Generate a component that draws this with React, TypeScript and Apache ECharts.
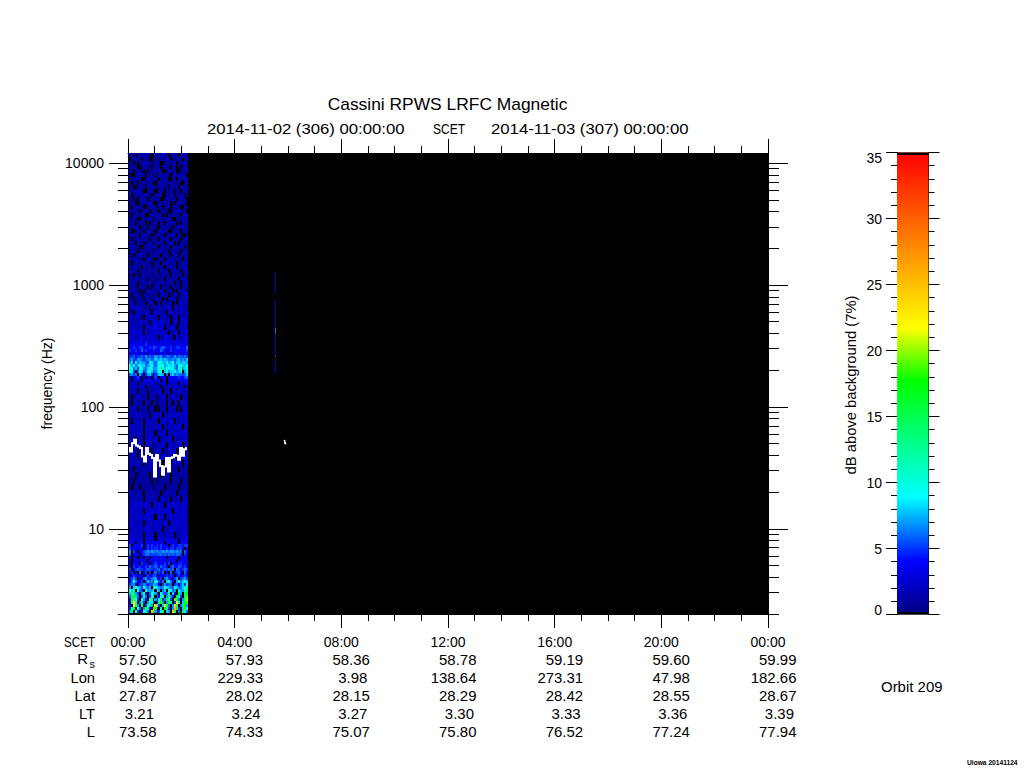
import React, { useEffect, useRef } from "react";
import * as echarts from "echarts";

const titleText = "Cassini RPWS LRFC Magnetic";
const startLabel = "2014-11-02 (306) 00:00:00";
const scetLabel = "SCET";
const endLabel = "2014-11-03 (307) 00:00:00";
const freqAxisName = "frequency (Hz)";
const dbAxisName = "dB above background (7%)";
const orbitLabel = "Orbit 209";
const creditLabel = "Uiowa 20141124";

const tickHours = [0, 4, 8, 12, 16, 20, 24];
const scetRow = ["00:00", "04:00", "08:00", "12:00", "16:00", "20:00", "00:00"];
const rsRow = ["57.50", "57.93", "58.36", "58.78", "59.19", "59.60", "59.99"];
const lonRow = ["94.68", "229.33", "3.98", "138.64", "273.31", "47.98", "182.66"];
const latRow = ["27.87", "28.02", "28.15", "28.29", "28.42", "28.55", "28.67"];
const ltRow = ["3.21", "3.24", "3.27", "3.30", "3.33", "3.36", "3.39"];
const lRow = ["73.58", "74.33", "75.07", "75.80", "76.52", "77.24", "77.94"];

const freqMajor = [10, 100, 1000, 10000];
const freqMinor = [2, 3, 4, 5, 6, 7, 8, 9, 20, 30, 40, 50, 60, 70, 80, 90, 200, 300, 400, 500, 600, 700, 800, 900, 2000, 3000, 4000, 5000, 6000, 7000, 8000, 9000];

// colour scale of the bar: dB -> rgb
const rampDb = [0, 4, 8.9, 17.7, 21.7, 35];
const rampRgb = [[0, 0, 128], [0, 0, 255], [0, 255, 255], [0, 255, 0], [255, 255, 0], [255, 0, 0]];

// edges of the spectrogram's time columns, hours
const columnHours = [0.04, 0.11, 0.19, 0.26, 0.33, 0.41, 0.48, 0.55, 0.63, 0.7, 0.77, 0.85, 0.92, 0.99, 1.07, 1.14, 1.21, 1.29, 1.36, 1.43, 1.51, 1.58, 1.65, 1.73, 1.8, 1.87, 1.95, 2.02, 2.09, 2.17, 2.24];

// edges of the spectrogram's frequency rows, Hz
const rowEdgesHz = [12080, 11200, 10380, 9630, 8930, 8280, 7680, 7120, 6600, 6120, 5680, 5260, 4880, 4530, 4200, 3890, 3610, 3350, 3100, 2880, 2670, 2480, 2300, 2130, 1970, 1830, 1700, 1580, 1460, 1350, 1250, 1160, 1080, 1000, 927, 860, 798, 740, 686,
  624, 568, 517, 470, 428, 389, 354,
  335, 316, 299, 282, 267, 252, 238, 225, 213, 201, 190, 180, 170, 160, 151, 143,
  128, 114, 102, 91, 81.3, 72.6, 64.7, 57.8, 51.6, 46.1, 41.2, 36.8, 32.8, 29.3, 26.2, 23.4, 20.9, 18.6, 16.6, 14.9, 13.3, 11.9, 10.6, 9.45, 8.43,
  7.97, 7.53, 7.12, 6.73, 6.36, 6.01, 5.68, 5.37, 5.07, 4.79, 4.53, 4.28, 4.05, 3.82, 3.61, 3.41, 3.22, 3.05, 2.88, 2.72, 2.57, 2.43, 2.3, 2.17, 2.05];

// dB per cell, base 36 (a=10 ... z=35), "." = no signal (black). One string per row, top to bottom.
const spectrogramRows = [
  "111.1121111..1111211.1111.1111",
  ".11111.211..11.111121.11111.21",
  "11.1.1112111.111..111111.11111",
  "1111..11111.1121.1111.21.1.111",
  "21.1111.1.1111111..11111..1112",
  "1..11211.111.1.211111.1111111.",
  "111111..1121111.1111..11.21111",
  "1.21.1111111..111211111111..11",
  "11..1111.21111.11111.2111.1111",
  "1111121..1111..111.1111.11.112",
  "2.111111111.11112..1112.1111.1",
  "11.1.1211.111111..111111.2111.",
  "111..1111112..1111112.1.11111.",
  "1.21111..11111.11.111.1111..11",
  "11111.1121.1111.1111..1121111.",
  "1.111111..1111121.1.111111.211",
  "1121..111111.111111111..111111",
  "111.1211.1.1111.11.21111.1.211",
  "11111.111.2111..111111.1111111",
  "2..1111.11111.112111..1111.111",
  "11111.21111..11111.11121.11..1",
  "1.11111111.1211.11111.1111.111",
  "111.211.1111.11111.1121.1.1111",
  "12111..11121111.11111.111112.1",
  "1111.1111111.1112111.11111.111",
  "11.111211.111111.1111.121.1111",
  "1111111.11111.2111.11111111.11",
  "1.121111111.1111.1121111.11111",
  "111111.21111.11111.11111.21111",
  "1121.1111111111.2111.11111.111",
  "11.11.211111.11111111.21111.11",
  "111111111.2111.111.111111.1211",
  "1121.1111111.1121111111.11.112",
  "1111.2111.1.1211.1111.1111.211",
  "21111.1.1211111112.111.1.21111",
  "1.2211.11112.11.1221.1111.2122",
  "12.1112.2111.2111.1.1221.11212",
  "212.2112.1212.12.21112.1.22122",
  "1122212112.22112111231.2212212",
  "11.22211221.2312211.2211212212",
  "2212211.2132213.22211.212.2222",
  "2212123122.2322232212.132.2231",
  "2132122.2322241223.22231.12222",
  "2232233.312232422321.3122.2223",
  "322123321422323.2143221.321233",
  "323423324233423342433323342324",
  "334424335324433342434323344324",
  "445435534454654456534534554446",
  "544534635443543465433534443445",
  "433423423343433343432324343334",
  "556455657565576675566557566565",
  "675577656776587787876676786768",
  "7859687765987689a87978a6887887",
  "a7968988678a7689ba78989769a88a",
  "9a685aa7689b6789bb8999a769b78b",
  "9b5.6a8569a85689a.8a788978a.7a",
  "6756.75.5785.56887.6.786766568",
  "4.3453.4.44.354.444.4444454456",
  "3.3332.34334.344.33.2333334343",
  "2322.223223232.2232.22232.3233",
  "22212222.2212222.22222122222.2",
  "2122.2212.2122222.212.22122122",
  "2.1221212.1221.1222.212212.211",
  "1.21121.211.21.1212.21.21.2221",
  "1222.2112.221.2.212.2122.1.222",
  "2212222122.222222.212222222222",
  "2.22212.2222212.2222222.212222",
  "2222222.222122222.212222222.22",
  "2122222.22222.12222.2122222222",
  "222.122.2222222.122222.2212222",
  "1222222.1222.212222.2222222.21",
  "2212.222.22.12222.212222.22222",
  "1222.21.222.2212222122.2.22222",
  "2212221.212222122.211.22221.21",
  "11.21112112111.2111112111.2111",
  "111.112111.11111.1211.11111111",
  "11.11111111.11.111111.1111.111",
  "1.111.111111.11111.111111.1111",
  "2111211.21112111.1121112.11211",
  "1222122.2122212.22212.2122.222",
  "22232222322.222322.22232222322",
  "2322222.22322223222232.2322222",
  "2222322223222.2322.22322222322",
  "2321222.221322222132.222322221",
  "12222212232212222.212222222322",
  "2322222.22322.222212222.122233",
  "3332233.33233.33233233323.3333",
  "443.344.4344344434.443443.4444",
  "5.43445.454544545444.454455455",
  "5443344.45454554544545545554.4",
  "7.53.4456767767667676776766.64",
  "6.434.456655655665656565665.53",
  "4.33.23.44.43443443.44344.3443",
  "4.3343433.43344344343343.43434",
  "3.444.5343.4454344535.44445343",
  "4.534544546546546554.564465453",
  "5.456554565545664565656.654565",
  "45.4.6.45.5.46.546.4.6.4564.64",
  "3454343.453465.34345354.453453",
  "4575.446745677435.6754357.5675",
  "4696435.5867.98546.8964.7968a8",
  "5673.55764658764.57566.564685a",
  "7.89875a767.8a8767a8766a8668ac",
  "a8d.965.a777a.a7.68.b967.b77af",
  "8cf75.7b4.6ab75.9756c.84.f7.ch",
  "6fh86.596.5ac.649b.7f74.ga5.ej",
  "4ej95.b74.9d.74ag56gb5.je6.7fk",
  "3emb.6e5.7ba5.5ci7.7ic.5nb.8gj",
  "4.me7.c.5af7.oa5.8lf6.7oe.6ei7",
  "5bh.96.7fc4.qi4.9.he5.7qg5.8h9",
  "7d.b5.49d6.pj7.5be.87.od.6.fa6",
];

// the narrow burst near 05:30: [high Hz, low Hz, dB]
const burstHours = [5.51, 5.54];
const burstHighHz = [1279, 753, 440, 400, 262, 238];
const burstLowHz = [860, 440, 400, 262, 255, 190];
const burstDb = [2, 2, 6, 2, 7, 3];

// white trace
const traceHours = [0.04, 0.11, 0.19, 0.26, 0.34, 0.41, 0.49, 0.56, 0.64, 0.71, 0.79, 0.86, 0.94, 1.01, 1.09, 1.16, 1.24, 1.31, 1.39, 1.46, 1.54, 1.61, 1.69, 1.76, 1.84, 1.91, 1.99, 2.06, 2.14, 2.21];
const traceHz = [45.9, 43, 50.4, 53.7, 48.2, 47.3, 45.9, 39.1, 35.6, 45.9, 41.2, 40.4, 38, 26.8, 40.4, 36.3, 32.8, 27.7, 32.4, 38, 29.5, 38, 38.7, 40.4, 39.7, 36.8, 45.9, 39.7, 45, 45.9];
const blipHours = [5.87, 5.89, 5.93];
const blipHz = [53.7, 49.7, 50.5];

const FONT = "Liberation Sans";

function dbColor(db: number) {
  let i = 0;
  while (i < rampDb.length - 2 && db > rampDb[i + 1]) i++;
  const f = (db - rampDb[i]) / (rampDb[i + 1] - rampDb[i]);
  const c = rampRgb[i].map((v, k) => Math.round(v + (rampRgb[i + 1][k] - v) * f));
  return `rgb(${c[0]},${c[1]},${c[2]})`;
}

function buildCells() {
  const cells: number[][] = [];
  spectrogramRows.forEach((row, r) => {
    if (r + 1 >= rowEdgesHz.length) return;
    for (let c = 0; c < columnHours.length - 1; c++) {
      const ch = row[c % row.length];
      if (ch === ".") continue;
      cells.push([columnHours[c], columnHours[c + 1], rowEdgesHz[r + 1], rowEdgesHz[r], parseInt(ch, 36)]);
    }
  });
  burstDb.forEach((db, i) => {
    cells.push([burstHours[0], burstHours[1], burstLowHz[i], burstHighHz[i], db]);
  });
  return cells;
}

function renderCell(_: any, api: any) {
  const a = api.coord([api.value(0), api.value(3)]);
  const b = api.coord([api.value(1), api.value(2)]);
  const x0 = Math.round(a[0]);
  const y0 = Math.round(a[1]);
  const x1 = Math.round(b[0]);
  const y1 = Math.round(b[1]);
  return {
    type: "rect",
    shape: { x: x0, y: y0, width: Math.max(1, x1 - x0), height: Math.max(1, y1 - y0) },
    style: { fill: dbColor(api.value(4)) },
  };
}

function renderBar(_: any, api: any) {
  const a = api.coord([0, 35]);
  const b = api.coord([1, 0]);
  const stops = rampDb.map((db, i) => ({
    offset: 1 - db / 35,
    color: `rgb(${rampRgb[i].join(",")})`,
  })).reverse();
  return {
    type: "group",
    children: [
      { type: "rect", shape: { x: a[0], y: a[1], width: b[0] - a[0], height: b[1] - a[1] }, style: { fill: new echarts.graphic.LinearGradient(0, 0, 0, 1, stops) } },
      { type: "rect", shape: { x: a[0], y: a[1], width: b[0] - a[0], height: 2.5 }, style: { fill: "#000" } },
      { type: "rect", shape: { x: a[0], y: b[1] - 2.5, width: b[0] - a[0], height: 2.5 }, style: { fill: "#000" } },
    ],
  };
}

function txt(text: string, x: number, y: number, align: string, size = 14, scaleX = 1, extra: any = {}) {
  return {
    type: "text",
    x,
    y,
    scaleX,
    silent: true,
    style: { text, fontFamily: FONT, fontSize: size, fill: "#000", textAlign: align, textVerticalAlign: "middle" },
    ...extra,
  };
}

const X0 = 128;
const PX_PER_HOUR = 640 / 24;
const rowY = [660, 678, 696, 714, 732];
const rowNames = ["", "Lon", "Lat", "LT", "L"];
const rows = [rsRow, lonRow, latRow, ltRow, lRow];

function tableTexts() {
  const out: any[] = [];
  out.push(txt("SCET", 95, 642, "right", 14, 0.83));
  rows.forEach((vals, r) => {
    if (rowNames[r]) out.push(txt(rowNames[r], 95, rowY[r], "right", 14, 1.05));
    vals.forEach((v, i) => {
      const tickX = X0 + tickHours[i] * PX_PER_HOUR;
      const right = tickX + (v.length <= 4 ? 26 : 28.5);
      out.push(txt(v, right, rowY[r], "right", 14, 1.07));
    });
  });
  // R with subscript s
  out.push(txt("R", 88, 659, "right", 14, 1.07));
  out.push(txt("s", 95, 664, "right", 10, 1.1));
  return out;
}

const lineStyle = { color: "#000", width: 1 };

function hiddenLogAxis(position: string, values: number[], len: number, labels: boolean) {
  return {
    type: "log",
    logBase: 10,
    gridIndex: 0,
    min: 2,
    max: 12100,
    position,
    axisLine: { show: true, lineStyle },
    axisTick: { show: true, length: len, lineStyle, customValues: values },
    axisLabel: labels
      ? { show: true, margin: 24, color: "#000", fontFamily: FONT, fontSize: 14, customValues: values, formatter: (v: number) => String(Math.round(v)) }
      : { show: false },
    splitLine: { show: false },
    minorTick: { show: false },
  };
}

export default function App() {
  const ref = useRef<HTMLDivElement>(null);
  useEffect(() => {
    const chart = echarts.init(ref.current!, undefined, { renderer: "svg" });
    const option: any = {
      animation: false,
      backgroundColor: "#fff",
      textStyle: { fontFamily: FONT },
      grid: [
        { left: 128, top: 153, width: 640, height: 461, show: true, backgroundColor: "#000", borderWidth: 0 },
        { left: 897, top: 152.5, width: 31.5, height: 462, show: false },
      ],
      xAxis: [
        {
          type: "value", gridIndex: 0, min: 0, max: 24, interval: 4, position: "bottom",
          axisLine: { show: true, lineStyle },
          axisTick: { show: true, length: 14, lineStyle },
          minorTick: { show: true, splitNumber: 4, length: 7, lineStyle },
          axisLabel: {
            show: true, margin: 21, color: "#000", fontFamily: FONT, fontSize: 14, showMinLabel: true, showMaxLabel: true,
            formatter: (v: number) => scetRow[tickHours.indexOf(v)],
          },
          splitLine: { show: false },
        },
        {
          type: "value", gridIndex: 0, min: 0, max: 24, interval: 4, position: "top",
          axisLine: { show: true, lineStyle },
          axisTick: { show: true, length: 14, lineStyle },
          minorTick: { show: true, splitNumber: 4, length: 7, lineStyle },
          axisLabel: { show: false },
          splitLine: { show: false },
        },
        {
          type: "value", gridIndex: 1, min: 0, max: 1, show: false,
        },
      ],
      yAxis: [
        {
          ...hiddenLogAxis("left", freqMajor, 19, true),
          name: freqAxisName,
          nameLocation: "middle",
          nameGap: 74,
          nameTextStyle: { color: "#000", fontFamily: FONT, fontSize: 14 },
        },
        hiddenLogAxis("left", freqMinor, 10, false),
        hiddenLogAxis("right", freqMajor, 20, false),
        hiddenLogAxis("right", freqMinor, 11, false),
        {
          type: "value", gridIndex: 1, min: 0, max: 35, interval: 5, position: "left",
          axisLine: { show: true, lineStyle },
          axisTick: { show: true, length: 11, lineStyle },
          minorTick: { show: true, splitNumber: 5, length: 6, lineStyle },
          axisLabel: { show: true, margin: 15, color: "#000", fontFamily: FONT, fontSize: 14, lineHeight: 10, verticalAlignMaxLabel: "top", verticalAlignMinLabel: "bottom" },
          splitLine: { show: false },
        },
        {
          type: "value", gridIndex: 1, min: 0, max: 35, interval: 5, position: "right",
          axisLine: { show: true, lineStyle },
          axisTick: { show: true, length: 11, lineStyle },
          minorTick: { show: true, splitNumber: 5, length: 6, lineStyle },
          axisLabel: { show: false },
          splitLine: { show: false },
        },
      ],
      series: [
        {
          type: "custom",
          name: "LRFC",
          xAxisIndex: 0,
          yAxisIndex: 0,
          coordinateSystem: "cartesian2d",
          renderItem: renderCell,
          encode: { x: [0, 1], y: [2, 3] },
          data: buildCells(),
          silent: true,
          z: 1,
        },
        {
          type: "line",
          name: "trace",
          xAxisIndex: 0,
          yAxisIndex: 0,
          data: traceHours.map((t, i) => [t, traceHz[i]]),
          showSymbol: false,
          symbol: "none",
          step: "middle",
          lineStyle: { color: "#fff", width: 2, join: "miter" },
          silent: true,
          z: 3,
        },
        {
          type: "line",
          name: "blip",
          xAxisIndex: 0,
          yAxisIndex: 0,
          data: blipHours.map((t, i) => [t, blipHz[i]]),
          symbol: "none",
          lineStyle: { color: "#fff", width: 1.5 },
          silent: true,
          z: 3,
        },
        {
          type: "custom",
          name: "colour bar",
          xAxisIndex: 2,
          yAxisIndex: 4,
          coordinateSystem: "cartesian2d",
          renderItem: renderBar,
          data: [[0, 35, 1, 0]],
          encode: { x: [0, 2], y: [1, 3] },
          silent: true,
          z: 1,
        },
      ],
      graphic: [
        txt(titleText, 447.5, 105, "center", 16, 1.088),
        txt(startLabel, 207, 129, "left", 14, 1.195),
        txt(scetLabel, 433, 129, "left", 14, 0.86),
        txt(endLabel, 491, 129, "left", 14, 1.195),
        ...tableTexts(),
        txt(dbAxisName, 851, 385, "center", 14, 1.056, { rotation: Math.PI / 2 }),
        txt(orbitLabel, 881, 687, "left", 14, 1.07),
        txt(creditLabel, 967, 762.5, "left", 7, 0.95, { style: { text: creditLabel, fontFamily: FONT, fontSize: 7, fontWeight: "bold", fill: "#000", textAlign: "left", textVerticalAlign: "middle" } }),
      ],
    };
    chart.setOption(option);
    return () => chart.dispose();
  }, []);
  return <div ref={ref} style={{ position: "absolute", left: 0, top: 0, width: 1024, height: 768 }} />;
}
